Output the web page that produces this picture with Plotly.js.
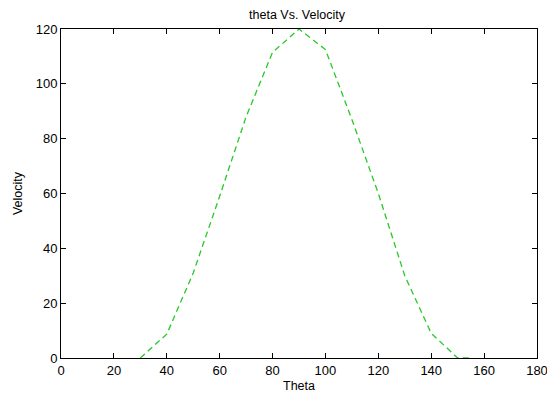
<!DOCTYPE html>
<html>
<head>
<meta charset="utf-8">
<script src="https://cdn.plot.ly/plotly-3.0.1.min.js"></script>
<style>html,body{margin:0;padding:0;background:#fff;}#chart{width:547px;height:394px;}</style>
</head>
<body>
<div id="chart"></div>
<script>
const theta = [30, 40, 50, 60, 70, 80, 90, 100, 110, 120, 130, 140, 150, 155];
const velocity = [0, 8.7, 31, 59, 88, 111.5, 120, 112.5, 87, 60, 30, 9, 0, 0];
const xTicks = [0, 20, 40, 60, 80, 100, 120, 140, 160, 180];
const yTicks = [0, 20, 40, 60, 80, 100, 120];

const font = {family: '"Liberation Sans", Arial, sans-serif', size: 13, color: '#000'};
const axisCommon = {
  showline: true, linecolor: '#000', linewidth: 1, mirror: 'allticks',
  ticks: 'inside', ticklen: 5, tickwidth: 1, tickcolor: '#000',
  showgrid: false, zeroline: false, tickfont: font, ticklabeloverflow: 'allow'
};
Plotly.newPlot('chart', [{
  x: theta, y: velocity, type: 'scatter', mode: 'lines',
  line: {color: 'rgb(40,200,40)', width: 1.3, dash: '6px,4px'}
}], {
  width: 547, height: 394,
  margin: {l: 61, r: 10, t: 29, b: 36},
  paper_bgcolor: '#fff', plot_bgcolor: '#fff',
  showlegend: false,
  title: {text: 'theta Vs. Velocity', font: Object.assign({}, font, {size: 12.5}), x: 297/547, xanchor: 'center', y: 1 - 15/394, yanchor: 'middle'},
  xaxis: Object.assign({}, axisCommon, {range: [0, 180], tickvals: xTicks, ticktext: xTicks.map(String),
    ticklabelstandoff: 0,
    title: {text: 'Theta', font: Object.assign({}, font, {size: 12.5}), standoff: 4}}),
  yaxis: Object.assign({}, axisCommon, {range: [0, 120], tickvals: yTicks, ticktext: yTicks.map(String),
    title: {text: 'Velocity', font: Object.assign({}, font, {size: 12.5}), standoff: 10}})
}, {displayModeBar: false, staticPlot: true});
</script>
</body>
</html>
